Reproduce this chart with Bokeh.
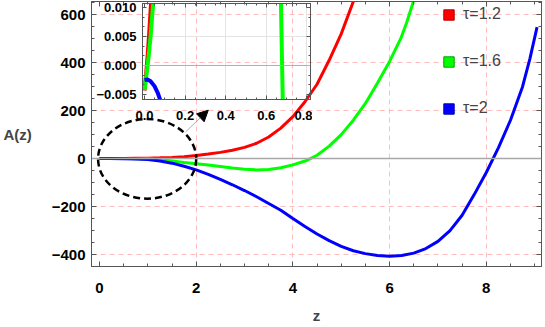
from bokeh.plotting import figure
from bokeh.models import (Range1d, LinearAxis, FixedTicker, Span, Arrow, NormalHead,
                          Legend, LegendItem)
from bokeh.layouts import column
from bokeh.embed import file_html
from bokeh.resources import INLINE

# ---------------- data ----------------
labels = ["τ=1.2", "τ=1.6", "τ=2"]
colors = ["#ff0000", "#00ff00", "#0000ff"]
edge_colors = ["#b40000", "#00a000", "#0000b0"]

z_red = [0, 0.008, 0.015, 0.022, 0.03, 0.033, 0.1, 0.3, 0.5, 0.75, 1.0, 1.25, 1.5, 1.75,
         2.0, 2.25, 2.5, 2.75, 3.0, 3.25, 3.5, 3.75, 4.0, 4.25, 4.5, 4.75, 5.0, 5.25, 5.4]
a_red = [-0.0043, -0.0015, 0.0015, 0.005, 0.0095, 0.011, 0.05, 0.3, 0.6, 1.3, 2.0, 3.2,
         5, 8, 13, 19, 26, 35, 47, 64, 90, 127, 175, 237, 310, 410, 520, 655, 740]

z_green = [0, 0.01, 0.02, 0.03, 0.04, 0.044, 0.1, 0.2, 0.3, 0.4, 0.5, 0.6, 0.65, 0.672,
           0.681, 0.7, 0.8, 1.0, 1.25, 1.5, 1.75, 2.0, 2.25, 2.5, 2.75, 3.0, 3.25, 3.5,
           3.75, 4.0, 4.25, 4.36, 4.5, 4.75, 5.0, 5.25, 5.5, 5.75, 6.0, 6.23, 6.35, 6.47,
           6.6]
a_green = [-0.0042, -0.0015, 0.0015, 0.005, 0.0095, 0.011, 0.05, 0.12, 0.18, 0.2, 0.18,
           0.12, 0.05, 0.011, -0.006, -0.05, -0.3, -1.5, -5, -10, -16, -21, -27, -33, -39,
           -44, -47, -45, -38, -26, -10, 0, 14, 52, 100, 160, 230, 315, 405, 500, 565, 640,
           730]

z_blue = [0, 0.015, 0.03, 0.05, 0.065, 0.08, 0.1, 0.2, 0.5, 0.75, 1.0, 1.25, 1.5, 1.75,
          2.0, 2.25, 2.5, 2.75, 3.0, 3.25, 3.5, 3.75, 4.0, 4.25, 4.5, 4.75, 5.0, 5.25, 5.5,
          5.75, 6.0, 6.25, 6.5, 6.75, 7.0, 7.25, 7.5, 7.75, 8.0, 8.25, 8.5, 8.75, 8.9, 9.05]
a_blue = [-0.0025, -0.0024, -0.0027, -0.0036, -0.0047, -0.0062, -0.009, -0.04, -0.6, -1.8,
          -4, -10, -19, -32, -47, -66, -87, -109, -133, -159, -187, -215, -250, -283, -314,
          -342, -366, -384, -396, -404, -407, -404, -394, -375, -345, -300, -236, -150, -58,
          45, 160, 300, 415, 548]

zs = [z_red, z_green, z_blue]
As = [a_red, a_green, a_blue]

x_ticks = [0, 2, 4, 6, 8]
x_tick_labels = ["0", "2", "4", "6", "8"]
y_ticks = [-400, -200, 0, 200, 400, 600]
y_tick_labels = ["\u2212400", "\u2212200", "0", "200", "400", "600"]

ins_x_ticks = [0.0, 0.2, 0.4, 0.6, 0.8]
ins_x_labels = ["0.0", "0.2", "0.4", "0.6", "0.8"]
ins_y_ticks = [-0.005, 0.0, 0.005, 0.010]
ins_y_labels = ["\u22120.005", "0.000", "0.005", "0.010"]

FONT = "Liberation Sans"
FRAME = "#555555"
GRID = "#ffbcbc"

# ---------------- main figure ----------------
p = figure(width=543, height=326, x_range=Range1d(-0.165, 9.142),
           y_range=Range1d(-449.7, 654.9), output_backend="svg", toolbar_location=None,
           min_border_left=91, min_border_right=2, min_border_top=1, min_border_bottom=59)
p.outline_line_color = FRAME

x_minor = [i * 0.5 for i in range(0, 19)]
y_minor = [-450 + i * 50 for i in range(0, 23)]


def style_axis(ax, ticks, minor, overrides, show_labels, size="15px", tin=5, mtin=3,
               standoff=6):
    ax.ticker = FixedTicker(ticks=ticks, minor_ticks=minor)
    ax.axis_line_color = FRAME
    ax.major_tick_line_color = FRAME
    ax.minor_tick_line_color = FRAME
    ax.major_tick_in = tin
    ax.major_tick_out = 0
    ax.minor_tick_in = mtin
    ax.minor_tick_out = 0
    ax.major_label_standoff = standoff
    if show_labels:
        ax.major_label_overrides = dict(zip(ticks, overrides))
        ax.major_label_text_font = FONT
        ax.major_label_text_font_style = "bold"
        ax.major_label_text_font_size = size
        ax.major_label_text_color = "black"
    else:
        ax.major_label_text_color = None
        ax.major_label_text_font_size = "1px"
        ax.major_label_standoff = 0


style_axis(p.xaxis[0], x_ticks, x_minor, x_tick_labels, True, standoff=16)
style_axis(p.yaxis[0], y_ticks, y_minor, y_tick_labels, True, standoff=6)
p.xaxis[0].axis_label = "z"
p.xaxis[0].axis_label_text_font = FONT
p.xaxis[0].axis_label_text_font_style = "bold"
p.xaxis[0].axis_label_text_font_size = "15px"
p.xaxis[0].axis_label_standoff = 11
p.yaxis[0].axis_label = "A(z)"
p.yaxis[0].axis_label_orientation = "horizontal"
p.yaxis[0].axis_label_text_font = FONT
p.yaxis[0].axis_label_text_font_style = "bold"
p.yaxis[0].axis_label_text_font_size = "15px"
p.yaxis[0].axis_label_standoff = 17

top_ax = LinearAxis()
style_axis(top_ax, x_ticks, x_minor, None, False)
p.add_layout(top_ax, "above")
right_ax = LinearAxis()
style_axis(right_ax, y_ticks, y_minor, None, False)
p.add_layout(right_ax, "right")

p.xgrid.ticker = FixedTicker(ticks=[2, 4, 6, 8])
p.ygrid.ticker = FixedTicker(ticks=[-400, -200, 200, 400, 600])
for g in (p.xgrid[0], p.ygrid[0]):
    g.grid_line_color = GRID
    g.grid_line_dash = "5 4"
    g.grid_line_width = 1

p.add_layout(Span(location=0, dimension="width", line_color="#a8a8a8", line_width=1.5))

for z, a, c in zip(zs, As, colors):
    p.line(z, a, line_color=c, line_width=3)

p.ellipse(x=0.986, y=-1, width=2.03, height=332, fill_alpha=0, line_color="black",
          line_width=2.5, line_dash="7 4")
p.add_layout(Arrow(end=NormalHead(size=11, fill_color="black", line_color="black"),
                   x_start=1.78, y_start=111, x_end=2.25, y_end=202,
                   line_color="#999999", line_width=0.8))

nan = float("nan")
items = []
for lab, c, ec in zip(labels, colors, edge_colors):
    r = p.quad(left=[nan], right=[nan], top=[nan], bottom=[nan], fill_color=c,
               line_color=ec, line_width=1)
    items.append(LegendItem(label=lab, renderers=[r]))
leg = Legend(items=items, location=(351, 149), glyph_width=13, glyph_height=13,
             label_height=13, spacing=29, padding=0, margin=0, label_standoff=8,
             label_text_font=FONT, label_text_font_size="16px",
             border_line_color=None, background_fill_alpha=0)
p.add_layout(leg)

# ---------------- inset figure ----------------
ins = figure(width=261, height=127, x_range=Range1d(-0.0099, 0.8177),
             y_range=Range1d(-0.00586, 0.01069), output_backend="svg",
             toolbar_location=None, min_border_left=91, min_border_right=2,
             min_border_top=6, min_border_bottom=25,
             background_fill_color=None, border_fill_color=None)
ins.outline_line_color = FRAME
ins_x_minor = [i * 0.05 for i in range(0, 17)]
ins_y_minor = [-0.005 + i * 0.005 / 3 for i in range(-1, 11)]
style_axis(ins.xaxis[0], ins_x_ticks, ins_x_minor, ins_x_labels, True, size="13px",
           tin=4, mtin=2, standoff=11)
style_axis(ins.yaxis[0], ins_y_ticks, ins_y_minor, ins_y_labels, True, size="13px",
           tin=4, mtin=2, standoff=6)
ita = LinearAxis()
style_axis(ita, ins_x_ticks, ins_x_minor, None, False, tin=4, mtin=2)
ins.add_layout(ita, "above")
ira = LinearAxis()
style_axis(ira, ins_y_ticks, ins_y_minor, None, False, tin=4, mtin=2)
ins.add_layout(ira, "right")
ins.xgrid.ticker = FixedTicker(ticks=[0.2, 0.4, 0.6, 0.8])
ins.ygrid.ticker = FixedTicker(ticks=[0.005])
for g in (ins.xgrid[0], ins.ygrid[0]):
    g.grid_line_color = "#e4e4e4"
    g.grid_line_width = 1
ins.add_layout(Span(location=0, dimension="width", line_color="#b0b0b0", line_width=1.2))
for z, a, c in zip(zs, As, colors):
    ins.line(z, a, line_color=c, line_width=4)
ins.margin = (-329, 0, 0, 51)

layout = column(p, ins)
open("out.html", "w").write(file_html(layout, INLINE))
